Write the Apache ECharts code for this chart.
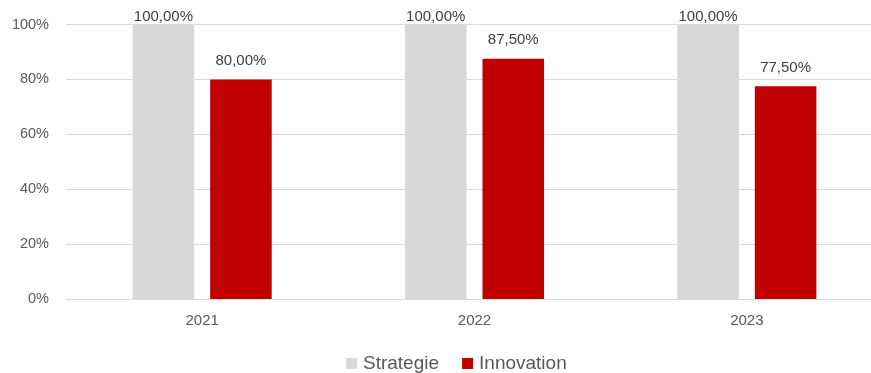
<!DOCTYPE html>
<html>
<head>
<meta charset="utf-8">
<script src="https://cdn.jsdelivr.net/npm/echarts@6/dist/echarts.min.js"></script>
<style>
  html, body { margin: 0; padding: 0; background: #fff; overflow: hidden; width: 871px; height: 373px; }
  /* the plot runs on past the right edge of the page */
  #chart { width: 883px; height: 373px; }
</style>
</head>
<body>
<div id="chart"></div>
<script>
// Jahre und Anteile (in Prozent)
const years = ['2021', '2022', '2023'];
const strategie = [100, 100, 100];
const innovation = [80, 87.5, 77.5];
const seriesNames = ['Strategie', 'Innovation'];

const fontFamily = 'Liberation Sans, Arial, sans-serif';
const fmtPct = v => v.toFixed(2).replace('.', ',') + '%';

const chart = echarts.init(document.getElementById('chart'), null, { renderer: 'canvas' });

chart.setOption({
  animation: false,
  backgroundColor: '#ffffff',
  textStyle: { fontFamily },
  grid: { left: 66, top: 24.5, right: 0, height: 274.5, containLabel: false },
  legend: {
    data: seriesNames,
    left: 341,
    top: 349,
    icon: 'rect',
    itemWidth: 11,
    itemHeight: 11,
    itemGap: 23,
    textStyle: { fontFamily, fontSize: 19, color: '#595959', padding: [0, 0, 0, 1] }
  },
  xAxis: {
    type: 'category',
    data: years,
    axisLine: { lineStyle: { color: '#d9d9d9', width: 1 } },
    axisTick: { show: false },
    axisLabel: { fontFamily, fontSize: 15, color: '#595959', margin: 14 }
  },
  yAxis: {
    type: 'value',
    min: 0,
    max: 100,
    interval: 20,
    axisLine: { show: false },
    axisTick: { show: false },
    splitLine: { lineStyle: { color: '#d9d9d9', width: 1 } },
    axisLabel: { fontFamily, fontSize: 14.5, color: '#595959', margin: 17, formatter: v => v + '%' }
  },
  series: [
    {
      name: seriesNames[0],
      type: 'bar',
      data: strategie,
      barWidth: '22.6%',
      barGap: '26%',
      itemStyle: { color: '#d9d9d9' },
      label: {
        show: true, position: 'top', distance: 0,
        fontFamily, fontSize: 15, color: '#404040',
        formatter: p => fmtPct(p.value)
      }
    },
    {
      name: seriesNames[1],
      type: 'bar',
      data: innovation,
      barWidth: '22.6%',
      itemStyle: { color: '#c00000' },
      label: {
        show: true, position: 'top', distance: 11,
        fontFamily, fontSize: 15, color: '#404040',
        formatter: p => fmtPct(p.value)
      }
    }
  ]
});
</script>
</body>
</html>
